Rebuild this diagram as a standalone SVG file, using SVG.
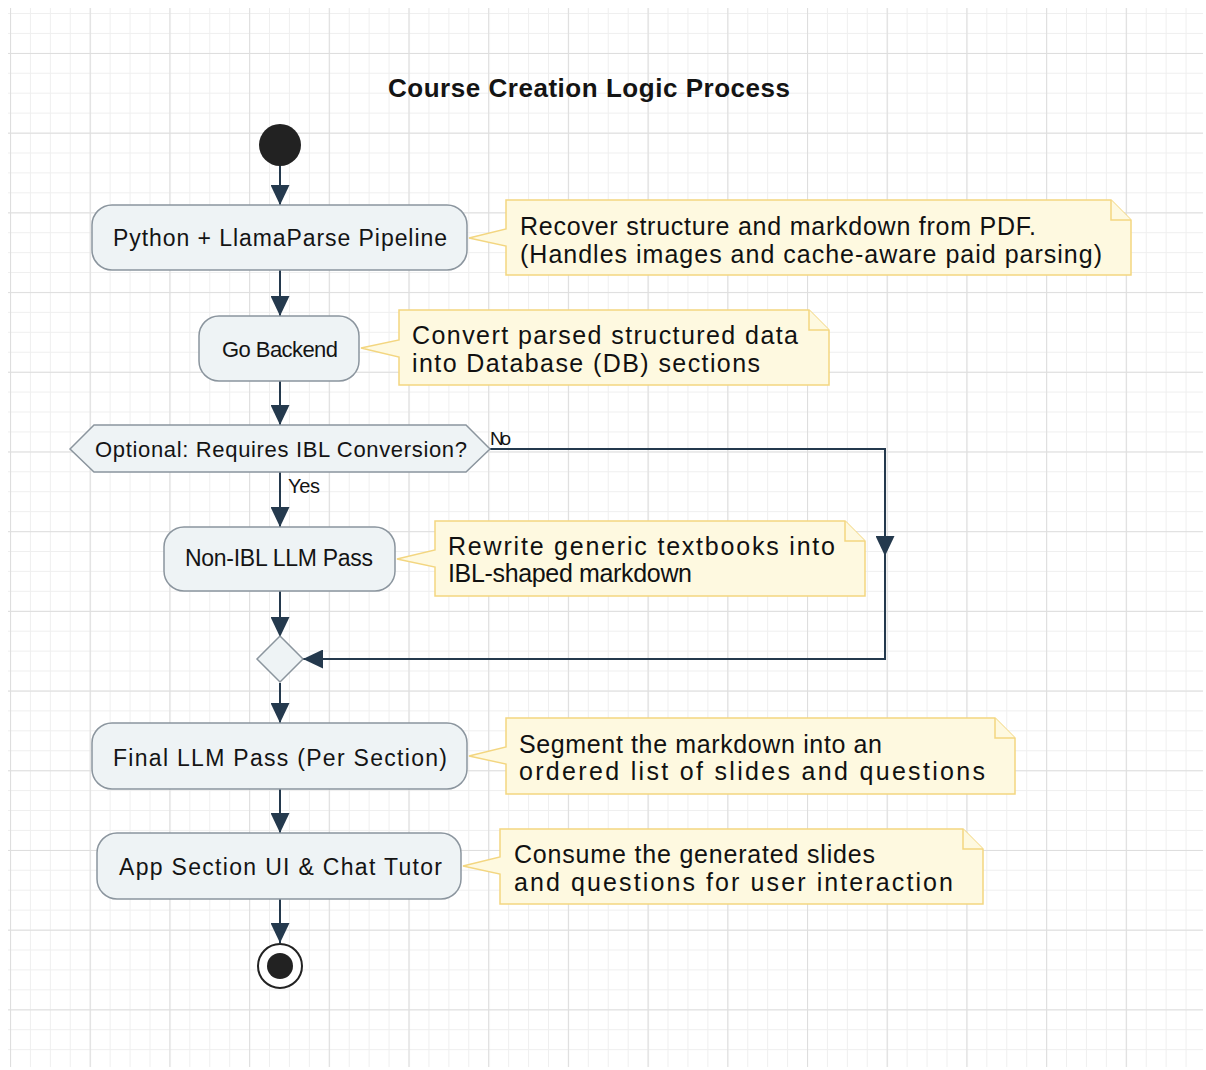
<svg xmlns="http://www.w3.org/2000/svg" width="1206" height="1070" viewBox="0 0 1206 1070">
<defs>
<pattern id="minor" patternUnits="userSpaceOnUse" x="10" y="13" width="19.925" height="19.925">
<path d="M0.5,0 V19.925 M0,0.5 H19.925" stroke="#efefef" stroke-width="1" fill="none"/>
</pattern>
<pattern id="major" patternUnits="userSpaceOnUse" x="10" y="53" width="79.7" height="79.7">
<path d="M0.5,0 V79.7 M0,0.5 H79.7" stroke="#dedede" stroke-width="1.2" fill="none"/>
</pattern>
<marker id="arr" markerUnits="userSpaceOnUse" markerWidth="20" markerHeight="19" refX="20" refY="9.5" orient="auto">
<path d="M0,0 L20,9.5 L0,19 Z" fill="#24394d"/>
</marker>
<style>
.act{fill:#eef3f5;stroke:#8b959e;stroke-width:1.5}
.note{fill:#fef9e0;stroke:#f3d680;stroke-width:1.5}
.fold{fill:#fef9e0;stroke:#f3d680;stroke-width:1.5}
.t{font-family:"Liberation Sans",Arial,sans-serif;fill:#141414}
.nt{font-family:"Liberation Sans",Arial,sans-serif;font-size:25px;fill:#111}
.edge{fill:none;stroke:#24394d;stroke-width:2}
</style>
</defs>
<rect width="1206" height="1070" fill="#ffffff"/>
<rect x="8" y="8" width="1195" height="1059" fill="url(#minor)"/>
<rect x="8" y="8" width="1195" height="1059" fill="url(#major)"/>

<text class="t" x="388" y="97" font-size="26" font-weight="bold" textLength="402">Course Creation Logic Process</text>

<g id="connectors">
<path class="edge" d="M280,166 V205" marker-end="url(#arr)"/>
<path class="edge" d="M280,270 V316" marker-end="url(#arr)"/>
<path class="edge" d="M280,381 V425" marker-end="url(#arr)"/>
<path class="edge" d="M280,472 V527" marker-end="url(#arr)"/>
<text class="t" x="288" y="493" font-size="20" textLength="32">Yes</text>
<path class="edge" d="M490,449 H885 V556" marker-end="url(#arr)"/>
<path class="edge" d="M885,552 V659 H303" marker-end="url(#arr)"/>
<text class="t" x="490" y="445" font-size="19" textLength="21">No</text>
<path class="edge" d="M280,591 V637" marker-end="url(#arr)"/>
<path class="edge" d="M280,683 V723" marker-end="url(#arr)"/>
<path class="edge" d="M280,789 V833" marker-end="url(#arr)"/>
<path class="edge" d="M280,899 V943" marker-end="url(#arr)"/>
</g>

<g id="start">
<circle cx="280" cy="145" r="21" fill="#222222"/>
</g>

<g id="python">
<rect class="act" x="92" y="205" width="375" height="65" rx="20"/>
<text class="t" x="113" y="246" font-size="23" textLength="334">Python + LlamaParse Pipeline</text>
</g>
<g id="note-python">
<path class="note" d="M506,200 H1111 L1131,220 V275 H506 V246 L469,238 L506,229 Z"/>
<path class="fold" d="M1111,200 V220 H1131"/>
<text class="nt" x="520" y="235" textLength="516">Recover structure and markdown from PDF.</text>
<text class="nt" x="520" y="263" textLength="582">(Handles images and cache-aware paid parsing)</text>
</g>

<g id="go-backend">
<rect class="act" x="199" y="316" width="160" height="65" rx="20"/>
<text class="t" x="222" y="357" font-size="22" textLength="116">Go Backend</text>
</g>
<g id="note-go">
<path class="note" d="M399,310 H809 L829,330 V385 H399 V357 L361,348 L399,340 Z"/>
<path class="fold" d="M809,310 V330 H829"/>
<text class="nt" x="412" y="344" textLength="386">Convert parsed structured data</text>
<text class="nt" x="412" y="372" textLength="348">into Database (DB) sections</text>
</g>

<g id="decision">
<polygon class="act" points="70,449 94,425 466,425 490,449 466,472 94,472"/>
<text class="t" x="95" y="457" font-size="22" textLength="372">Optional: Requires IBL Conversion?</text>
</g>

<g id="non-ibl">
<rect class="act" x="164" y="527" width="231" height="64" rx="20"/>
<text class="t" x="185" y="566" font-size="23" textLength="188">Non-IBL LLM Pass</text>
</g>
<g id="note-nonibl">
<path class="note" d="M435,521 H845 L865,541 V596 H435 V567 L397,559 L435,550 Z"/>
<path class="fold" d="M845,521 V541 H865"/>
<text class="nt" x="448" y="555" textLength="387">Rewrite generic textbooks into</text>
<text class="nt" x="448" y="582" textLength="244">IBL-shaped markdown</text>
</g>

<g id="merge">
<polygon class="act" points="280,636 303,659 280,682 257,659"/>
</g>

<g id="final-pass">
<rect class="act" x="92" y="723" width="375" height="66" rx="20"/>
<text class="t" x="113" y="766" font-size="23" textLength="334">Final LLM Pass (Per Section)</text>
</g>
<g id="note-final">
<path class="note" d="M506,718 H995 L1015,738 V794 H506 V764 L469,756 L506,747 Z"/>
<path class="fold" d="M995,718 V738 H1015"/>
<text class="nt" x="519" y="753" textLength="363">Segment the markdown into an</text>
<text class="nt" x="519" y="780" textLength="466">ordered list of slides and questions</text>
</g>

<g id="app-ui">
<rect class="act" x="97" y="833" width="364" height="66" rx="20"/>
<text class="t" x="119" y="875" font-size="23" textLength="323">App Section UI &amp; Chat Tutor</text>
</g>
<g id="note-app">
<path class="note" d="M500,829 H963 L983,849 V904 H500 V874 L463,866 L500,857 Z"/>
<path class="fold" d="M963,829 V849 H983"/>
<text class="nt" x="514" y="863" textLength="361">Consume the generated slides</text>
<text class="nt" x="514" y="891" textLength="439">and questions for user interaction</text>
</g>

<g id="end">
<circle cx="280" cy="966" r="22" fill="#ffffff" stroke="#222222" stroke-width="2"/>
<circle cx="280" cy="966" r="13" fill="#222222"/>
</g>
</svg>
